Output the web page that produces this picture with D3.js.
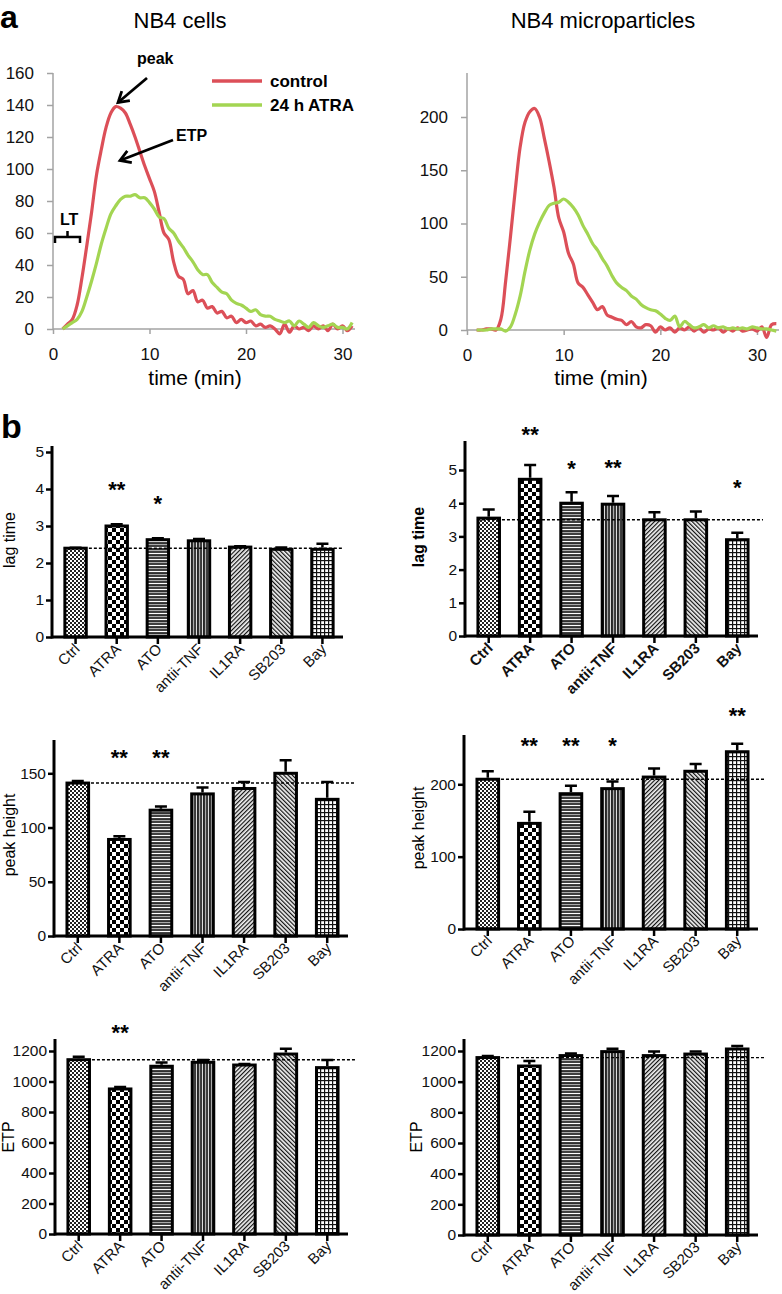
<!DOCTYPE html>
<html><head><meta charset="utf-8">
<script src="https://cdn.jsdelivr.net/npm/d3@7"></script>
<style>
body{margin:0;background:#fff}
svg{display:block}
text{font-family:"Liberation Sans",Arial,sans-serif}
</style></head>
<body><svg id="c" width="782" height="1294"></svg>
<script>
// ---------- curve data (thrombin generation) ----------
const timeCells = [1,1.5,2,2.5,3,3.5,4,4.5,5,5.5,6,6.5,7,7.5,8,8.5,9,9.5,10,10.5,11,11.5,12,12.5,13,13.5,14,14.5,15,15.5,16,16.5,17,17.5,18,18.5,19,19.5,20,20.5,21,21.5,22,22.5,23,23.5,24,24.5,25,25.5,26,26.5,27,27.5,28,28.5,29,29.5,30,30.5,31];
const cellsControl = [0,3,6,15,32,52,73,96,112,126, 135,139,138,135,128,120,111,102,94,86, 73,60,56,42,33,31,22,24,17,18, 13,14,10,11,7,8,4,6,4,5, 2,3,1,2,0,-3,3,-2,2,0, 1,-1,2,0,2,-1,3,0,2,-1, 2];
const cellsATRA = [0,2,4,6,11,20,30,41,53,63, 72,77,81,83,83,84,82,82,79,75, 70,69,63,60,55,51,46,42,37,34, 34,29,26,23,22,18,16,15,13,11, 12,9,8,8,6,5,4,5,2,5, 3,1,4,2,1,2,3,1,1,0, 4];
const timeMP = [1,1.5,2,2.5,3,3.5,4,4.5,5,5.5,6,6.5,7,7.5,8,8.5,9,9.5,10,10.5,11,11.5,12,12.5,13,13.5,14,14.5,15,15.5,16,16.5,17,17.5,18,18.5,19,19.5,20,20.5,21,21.5,22,22.5,23,23.5,24,24.5,25,25.5,26,26.5,27,27.5,28,28.5,29,29.5,30,30.5,31,31.5,32];
const mpControl = [0,0,1,1,0,10,46,88,132,172, 195,205,208,200,180,158,134,105,92,72, 62,44,40,33,26,19,22,14,12,10, 9,5,8,3,2,5,4,-2,3,0, 2,-2,2,0,3,-1,2,-2,1,0, 2,-2,1,-1,2,-1,0,1,-1,3, -7,5,6];
const mpATRA = [0,0,0,1,1,1,-1,3,15,32, 55,75,90,101,110,117,119,120,123,120, 115,108,98,90,81,75,67,60,51,44, 40,37,32,29,24,21,19,18,15,11, 9,13,3,8,5,2,3,5,2,4, 2,3,1,2,1,2,1,3,2,1, 1,0,-1];
const timeTicks = [0,10,20,30];
const cellsYTicks = [0,20,40,60,80,100,120,140,160];
const mpYTicks = [0,50,100,150,200];
const legendLabels = ["control","24 h ATRA"];

// ---------- bar data ----------
const categories = ["Ctrl","ATRA","ATO","antii-TNF","IL1RA","SB203","Bay"];
const cellsLag = [2.4,3.0,2.63,2.6,2.43,2.37,2.37];
const cellsLagSem = [0.01,0.05,0.04,0.05,0.02,0.05,0.15];
const cellsLagRef = 2.4;
const cellsLagStars = ["","**","*","","","",""];
const cellsLagStarAt = [0,4.1,3.74,0,0,0,0];
const mpLag = [3.55,4.72,4.0,3.97,3.5,3.5,2.9];
const mpLagSem = [0.26,0.43,0.33,0.25,0.23,0.25,0.21];
const mpLagRef = 3.5;
const mpLagStars = ["","**","*","**","","","*"];
const mpLagStarAt = [0,6.2,5.18,5.2,0,0,4.6];
const cellsPeak = [141,89,116,131,136,150,126];
const cellsPeakSem = [2,3,3.5,6,6,12,16];
const cellsPeakRef = 141;
const cellsPeakStars = ["","**","**","","","",""];
const cellsPeakStarAt = [0,169,169,0,0,0,0];
const mpPeak = [207,146,187,194,210,218,245];
const mpPeakSem = [11,16,11,10,12,10,11];
const mpPeakRef = 207;
const mpPeakStars = ["","**","**","*","","","**"];
const mpPeakStarAt = [0,260,260,260,0,0,301];
const cellsETP = [1143,951,1100,1126,1108,1180,1091];
const cellsETPSem = [20,13,24,15,7,35,50];
const cellsETPRef = 1143;
const cellsETPStars = ["","**","","","","",""];
const cellsETPStarAt = [0,1348,0,0,0,0,0];
const mpETP = [1157,1102,1170,1196,1170,1180,1213];
const mpETPSem = [10,33,13,19,26,16,20];
const mpETPRef = 1157;
const lagTicks = [0,1,2,3,4,5];
const cellsPeakTicks = [0,50,100,150];
const mpPeakTicks = [0,100,200];
const etpTicks = [0,200,400,600,800,1000,1200];

const RED = "#dc4f58", GREEN = "#a3d552", AXG = "#a3a3a3";
const svg = d3.select("#c");
const defs = svg.append("defs");

// ---------- fill patterns ----------
function pat(id, w, h, draw, tr){
  const p = defs.append("pattern").attr("id",id).attr("patternUnits","userSpaceOnUse").attr("width",w).attr("height",h);
  if(tr) p.attr("patternTransform",tr);
  draw(p);
}
pat("p0",4,4,p=>{p.append("rect").attr("width",4).attr("height",4).attr("fill","#fff");
  p.append("rect").attr("width",2).attr("height",2).attr("fill","#222");
  p.append("rect").attr("x",2).attr("y",2).attr("width",2).attr("height",2).attr("fill","#222");});
pat("p1",8,8,p=>{p.append("rect").attr("width",8).attr("height",8).attr("fill","#fff");
  p.append("rect").attr("width",4).attr("height",4).attr("fill","#000");
  p.append("rect").attr("x",4).attr("y",4).attr("width",4).attr("height",4).attr("fill","#000");});
pat("p2",6,6,p=>{p.append("rect").attr("width",6).attr("height",6).attr("fill","#111");
  p.append("rect").attr("y",0.8).attr("width",6).attr("height",1.4).attr("fill","#fff");
  p.append("rect").attr("y",3.8).attr("width",6).attr("height",1.5).attr("fill","#aaa");});
pat("p3",6,6,p=>{p.append("rect").attr("width",6).attr("height",6).attr("fill","#111");
  p.append("rect").attr("x",0.8).attr("width",1.5).attr("height",6).attr("fill","#aaa");
  p.append("rect").attr("x",3.8).attr("width",1.3).attr("height",6).attr("fill","#ddd");});
pat("p4",3,3,p=>{p.append("rect").attr("width",3).attr("height",3).attr("fill","#f2f2f2");
  p.append("rect").attr("width",1.2).attr("height",3).attr("fill","#111");},"rotate(45)");
pat("p5",3,3,p=>{p.append("rect").attr("width",3).attr("height",3).attr("fill","#f2f2f2");
  p.append("rect").attr("width",1.2).attr("height",3).attr("fill","#111");},"rotate(-45)");
pat("p6",4,4,p=>{p.append("rect").attr("width",4).attr("height",4).attr("fill","#111");
  p.append("rect").attr("x",1.2).attr("y",1.2).attr("width",2.8).attr("height",2.8).attr("fill","#fff");});

// ---------- curve panels ----------
function curvePanel(c){
  const g = svg.append("g");
  const x = d3.scaleLinear().domain([0,30]).range([c.x0, c.x30]);
  const y = d3.scaleLinear().domain([0,c.yv]).range([c.y0, c.yp]);
  const ya = g.append("g").attr("transform",`translate(${c.x0},0)`)
    .call(d3.axisLeft(y).tickValues(c.yticks).tickSize(6).tickPadding(13));
  ya.select(".domain").remove();
  ya.selectAll(".tick line").attr("stroke",AXG).attr("stroke-width",1.5);
  ya.selectAll(".tick text").attr("font-size",17).attr("fill","#111");
  const xa = g.append("g").attr("transform",`translate(0,${c.y0})`)
    .call(d3.axisBottom(x).tickValues(timeTicks).tickSize(5).tickPadding(14));
  xa.select(".domain").remove();
  xa.selectAll(".tick line").attr("stroke",AXG).attr("stroke-width",1.5);
  xa.selectAll(".tick text").attr("font-size",17).attr("fill","#111");
  g.append("line").attr("x1",c.x0).attr("x2",c.x0).attr("y1",c.y0).attr("y2",c.top).attr("stroke",AXG).attr("stroke-width",1.5);
  g.append("line").attr("x1",c.x0).attr("x2",c.xEnd).attr("y1",c.y0).attr("y2",c.y0).attr("stroke",AXG).attr("stroke-width",1.5);
  const mk = t => d3.line().x((d,i)=>x(t[i])).y(d=>y(d)).curve(d3.curveCatmullRom.alpha(0.5));
  g.append("path").attr("d",mk(c.time)(c.ctrl)).attr("fill","none").attr("stroke",RED).attr("stroke-width",3.2).attr("stroke-linejoin","round");
  g.append("path").attr("d",mk(c.time)(c.atra)).attr("fill","none").attr("stroke",GREEN).attr("stroke-width",3.2).attr("stroke-linejoin","round");
  g.append("text").attr("x",c.titleX).attr("y",28).attr("text-anchor","middle").attr("font-size",22).text(c.title);
  g.append("text").attr("x",c.labX).attr("y",385).attr("text-anchor","middle").attr("font-size",21).text("time (min)");
  return {x,y,g};
}
curvePanel({x0:53,x30:342.5,xEnd:355,y0:329,yp:73,yv:160,top:73,yticks:cellsYTicks,time:timeCells,ctrl:cellsControl,atra:cellsATRA,title:"NB4 cells",titleX:180,labX:195});
curvePanel({x0:467,x30:757,xEnd:779,y0:330,yp:117,yv:200,top:73,yticks:mpYTicks,time:timeMP,ctrl:mpControl,atra:mpATRA,title:"NB4 microparticles",titleX:603,labX:601});

// legend
[RED,GREEN].forEach((col,i)=>{
  svg.append("line").attr("x1",212).attr("x2",262).attr("y1",81+i*24).attr("y2",81+i*24).attr("stroke",col).attr("stroke-width",3.5);
  svg.append("text").attr("x",270).attr("y",87+i*24).attr("font-size",17).attr("font-weight","bold").text(legendLabels[i]);
});
// annotations
function arrow(x1,y1,x2,y2){
  svg.append("line").attr("x1",x1).attr("y1",y1).attr("x2",x2).attr("y2",y2).attr("stroke","#000").attr("stroke-width",2.8);
  const a = Math.atan2(y2-y1,x2-x1), L=12, s=0.55;
  svg.append("path").attr("d",`M${x2-L*Math.cos(a-s)},${y2-L*Math.sin(a-s)}L${x2},${y2}L${x2-L*Math.cos(a+s)},${y2-L*Math.sin(a+s)}`)
    .attr("fill","none").attr("stroke","#000").attr("stroke-width",2.8);
}
svg.append("text").attr("x",137).attr("y",64).attr("font-size",16).attr("font-weight","bold").text("peak");
arrow(147,78,118,102.5);
svg.append("text").attr("x",176).attr("y",141).attr("font-size",16).attr("font-weight","bold").text("ETP");
arrow(173,140,120,160.5);
svg.append("text").attr("x",60).attr("y",225).attr("font-size",16).attr("font-weight","bold").text("LT");
svg.append("path").attr("d","M55,243V237H80V243M67.5,237V231").attr("fill","none").attr("stroke","#000").attr("stroke-width",2.5);
svg.append("text").attr("x",0).attr("y",28).attr("font-size",32).attr("font-weight","bold").text("a");
svg.append("text").attr("x",1).attr("y",438).attr("font-size",34).attr("font-weight","bold").text("b");

// ---------- bar panels ----------
function barPanel(c){
  const g = svg.append("g");
  const x = d3.scaleBand().domain(categories).range([c.x0+3, c.x1]).paddingInner(0.48).paddingOuter(0.24);
  const y = d3.scaleLinear().domain([0,c.yTopVal]).range([c.y0,c.yTopPx]);
  const ya = g.append("g").attr("transform",`translate(${c.x0},0)`)
    .call(d3.axisLeft(y).tickValues(c.ticks).tickSize(6).tickPadding(2).tickFormat(d3.format("d")));
  ya.select(".domain").remove();
  ya.selectAll(".tick line").attr("stroke","#000").attr("stroke-width",2.5);
  ya.selectAll(".tick text").attr("font-size",15.5).attr("fill","#111");
  const xa = g.append("g").attr("transform",`translate(0,${c.y0})`)
    .call(d3.axisBottom(x).tickSize(7));
  xa.select(".domain").remove();
  xa.selectAll(".tick line").attr("stroke","#000").attr("stroke-width",2.5);
  xa.selectAll(".tick text").attr("font-size",15).attr("fill","#111").attr("font-weight",c.bold?"bold":null)
    .attr("text-anchor","end").attr("x",0).attr("y",0).attr("dy",0).attr("transform","translate(5,13) rotate(-45)");
  g.selectAll("rect.bar").data(c.vals).join("rect").attr("class","bar")
    .attr("x",(d,i)=>x(categories[i])).attr("y",d=>y(d))
    .attr("width",x.bandwidth()).attr("height",d=>c.y0-y(d))
    .attr("fill",(d,i)=>`url(#p${i})`).attr("stroke","#000").attr("stroke-width",3);
  g.selectAll("path.err").data(c.vals).join("path").attr("class","err")
    .attr("d",(d,i)=>{const cx=x(categories[i])+x.bandwidth()/2, t=y(d+c.sem[i]);
      return `M${cx},${y(d)-1.5}V${t}M${cx-6},${t}H${cx+6}`;})
    .attr("fill","none").attr("stroke","#000").attr("stroke-width",2.5);
  g.append("line").attr("x1",x(categories[0])-1).attr("x2",c.dashEnd).attr("y1",y(c.ref)).attr("y2",y(c.ref))
    .attr("stroke","#000").attr("stroke-width",1.4).attr("stroke-dasharray","3,2");
  g.append("line").attr("x1",c.x0).attr("x2",c.x0).attr("y1",c.y0+1.5).attr("y2",c.axisTop).attr("stroke","#000").attr("stroke-width",3);
  g.append("line").attr("x1",c.x0).attr("x2",c.x1).attr("y1",c.y0).attr("y2",c.y0).attr("stroke","#000").attr("stroke-width",3);
  g.selectAll("text.star").data(c.stars).join("text").attr("class","star")
    .attr("x",(d,i)=>x(categories[i])+x.bandwidth()/2).attr("y",(d,i)=>y(c.starAt[i])+12)
    .attr("text-anchor","middle").attr("font-size",22).attr("font-weight","bold").text(d=>d);
  g.append("text").attr("transform",`translate(${c.lx},${c.ly}) rotate(-90)`).attr("text-anchor","middle")
    .attr("dominant-baseline","central").attr("font-size",16).attr("font-weight",c.bold?"bold":null).text(c.label);
}
const noStars = ["","","","","","",""], zeros=[0,0,0,0,0,0,0];
barPanel({vals:cellsLag,sem:cellsLagSem,ref:cellsLagRef,ticks:lagTicks,stars:cellsLagStars,starAt:cellsLagStarAt,
  x0:52,x1:343,y0:637,yTopVal:5,yTopPx:452,axisTop:446,dashEnd:343,label:"lag time",lx:9,ly:540,bold:false});
barPanel({vals:mpLag,sem:mpLagSem,ref:mpLagRef,ticks:lagTicks,stars:mpLagStars,starAt:mpLagStarAt,
  x0:465,x1:758,y0:636,yTopVal:5,yTopPx:470,axisTop:441,dashEnd:763,label:"lag time",lx:418,ly:537,bold:true});
barPanel({vals:cellsPeak,sem:cellsPeakSem,ref:cellsPeakRef,ticks:cellsPeakTicks,stars:cellsPeakStars,starAt:cellsPeakStarAt,
  x0:54,x1:348,y0:936,yTopVal:150,yTopPx:773.3,axisTop:740,dashEnd:355,label:"peak height",lx:9,ly:835,bold:false});
barPanel({vals:mpPeak,sem:mpPeakSem,ref:mpPeakRef,ticks:mpPeakTicks,stars:mpPeakStars,starAt:mpPeakStarAt,
  x0:464,x1:758,y0:929,yTopVal:200,yTopPx:784.3,axisTop:735,dashEnd:764,label:"peak height",lx:418,ly:828,bold:false});
barPanel({vals:cellsETP,sem:cellsETPSem,ref:cellsETPRef,ticks:etpTicks,stars:cellsETPStars,starAt:cellsETPStarAt,
  x0:55,x1:348,y0:1234,yTopVal:1200,yTopPx:1051,axisTop:1039,dashEnd:355,label:"ETP",lx:8,ly:1137,bold:false});
barPanel({vals:mpETP,sem:mpETPSem,ref:mpETPRef,ticks:etpTicks,stars:noStars,starAt:zeros,
  x0:464,x1:758,y0:1235,yTopVal:1200,yTopPx:1051,axisTop:1039,dashEnd:766,label:"ETP",lx:416,ly:1137,bold:false});
</script>
</body></html>
